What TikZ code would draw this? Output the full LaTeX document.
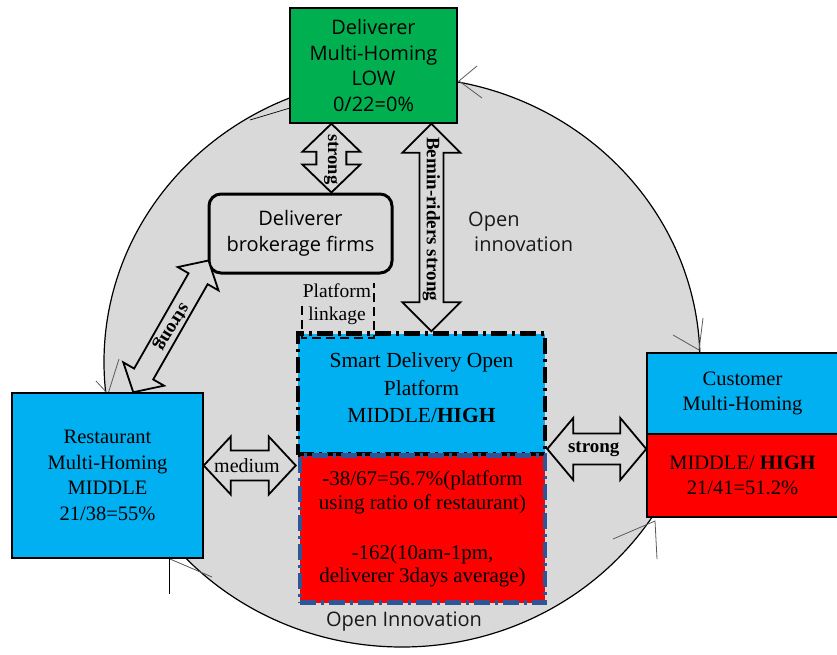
\documentclass[tikz,border=0pt]{standalone}
\usepackage{fontspec}
\setmainfont{Liberation Serif}
\newfontfamily\sansf{Open Sans}
\usetikzlibrary{calc}
\definecolor{cyanb}{HTML}{00B0F0}
\definecolor{greenb}{HTML}{00B050}
\definecolor{bgray}{HTML}{D9D9D9}
\definecolor{dblue}{HTML}{2F5597}
\definecolor{tipgray}{HTML}{5A5A5A}
% #1 start tip, #2 end tip, #3 shaft half width, #4 head half width, #5 head length
\newcommand\blockarrow[5]{%
  \draw[blk] (#1) -- ($(#1)!#5!(#2)!#4!90:(#2)$) -- ($(#1)!#5!(#2)!#3!90:(#2)$)
    -- ($(#2)!#5!(#1)!#3!-90:(#1)$) -- ($(#2)!#5!(#1)!#4!-90:(#1)$) -- (#2)
    -- ($(#2)!#5!(#1)!#4!90:(#1)$) -- ($(#2)!#5!(#1)!#3!90:(#1)$)
    -- ($(#1)!#5!(#2)!#3!-90:(#2)$) -- ($(#1)!#5!(#2)!#4!-90:(#2)$) -- cycle;}
\begin{document}
\begin{tikzpicture}[x=1pt,y=-1pt,
  blk/.style={draw=black, line width=1.8pt, fill=bgray, line join=miter},
  tipline/.style={draw=tipgray, line width=0.8pt},
  sansfont/.style={font=\sansf\fontsize{20}{25.5}\selectfont},
  seriffont/.style={font=\fontsize{20.5}{25.7}\selectfont},
  solidbox/.style={draw=black, line width=1.5pt, inner sep=0pt, align=center},
  dashdot/.style={line width=4.5pt, dash pattern=on 16pt off 5pt on 3pt off 5pt},
  arrowtext/.style={font=\bfseries\fontsize{19}{22}\selectfont, inner sep=0pt}]
\useasboundingbox (0,0) rectangle (837,655);

% big circle
\draw[fill=bgray, line width=1.2pt] (402,362) ellipse [x radius=298pt, y radius=285pt];

% thin arrow-tip strokes on the circle
\draw[tipline] (477,66) -- (459,81) -- (482,98);
\draw[tipline] (673,335) -- (699,350) -- (703,318);
\draw[tipline] (613,539) -- (655,521) -- (657,559);
\draw[tipline] (212,577) -- (170,559);
\draw[black, line width=0.8pt] (169.5,559) -- (169.5,594);
\draw[tipline] (96,381) -- (108,394) -- (119,359);
\draw[black, line width=0.7pt] (250,120) -- (290,108);

% boxes
\node[solidbox, fill=greenb, minimum width=167pt, minimum height=115pt, sansfont]
  (deliv) at (373.5,65.5) {Deliverer\\Multi-Homing\\LOW\\0/22=0\%};
\node[draw=black, line width=3pt, rounded corners=12pt, fill=bgray, minimum width=183pt,
  minimum height=79pt, align=center, sansfont] (broker) at (300.5,233.5) {Deliverer\\brokerage firms};
\node[solidbox, fill=cyanb, minimum width=191pt, minimum height=165pt, seriffont]
  (rest) at (107.5,475.5) {Restaurant\\Multi-Homing\\MIDDLE\\21/38=55\%};
\node[solidbox, fill=cyanb, minimum width=191pt, minimum height=81pt, seriffont]
  (custt) at (742.5,393.5) {Customer\\Multi-Homing};
\node[solidbox, fill=red, minimum width=191pt, minimum height=83pt, seriffont]
  (custb) at (742.5,475.5) {MIDDLE/ \textbf{HIGH}\\21/41=51.2\%};

\node[draw=black, dashdot, fill=cyanb,
  minimum width=247pt, minimum height=121pt, inner sep=0pt] (smart) at (421.5,394) {};
\node[align=center, font=\fontsize{21.5}{27.5}\selectfont] (smarttext) at (421.5,388)
  {Smart Delivery Open\\Platform\\MIDDLE/\textbf{HIGH}};
\node[draw=dblue, dashdot, fill=red,
  minimum width=245pt, minimum height=147pt, inner sep=0pt, align=center,
  font=\fontsize{21}{23.5}\selectfont] (plat) at (422.5,529)
  {-38/67=56.7\%(platform\\using ratio of restaurant)\\[26.5pt]-162(10am-1pm,\\deliverer 3days average)};

% platform linkage
\node[align=center, font=\fontsize{19.5}{23}\selectfont, inner sep=0pt] (plk) at (337,304.5) {Platform\\linkage};
\draw[dash pattern=on 9pt off 5pt, line width=2.2pt] (302,306) -- (302,338) -- (374,338) -- (374,283);

% block arrows
\coordinate (a1) at ($(deliv.south west)!0.25!(deliv.south east)$);
\coordinate (a2) at (a1 |- broker.north);
\blockarrow{a1}{a2}{15pt}{29pt}{28pt}
\node[arrowtext, rotate=-90, font=\bfseries\fontsize{18.5}{20}\selectfont] at ($(a1)!0.52!(a2)$) {strong};

\coordinate (b1) at ($(deliv.south west)!0.844!(deliv.south east)$);
\coordinate (b2) at (b1 |- smart.north);
\blockarrow{b1}{b2}{12pt}{29pt}{29pt}
\node[arrowtext, rotate=-90] at ($(b1)!0.46!(b2)$) {Bemin-riders strong};

\coordinate (c1) at ($(broker.south west)+(1,-14)$);
\coordinate (c2) at ($(rest.north west)+(122,0)$);
\blockarrow{c1}{c2}{11pt}{23.5pt}{21pt}
\node[arrowtext, rotate=238] at ($(c1)!0.5!(c2)$) {strong};

\coordinate (m1) at ($(rest.north east)!0.44!(rest.south east)$);
\coordinate (m2) at (m1 -| smart.west);
\blockarrow{m1}{m2}{15pt}{29pt}{27pt}
\node[font=\fontsize{20}{22}\selectfont, inner sep=0pt] at ($(m1)!0.47!(m2)$) {medium};

\coordinate (h1) at ($(smart.north east)!0.938!(smart.south east)$);
\coordinate (h2) at (h1 -| custt.west);
\blockarrow{h1}{h2}{15.5pt}{31pt}{26pt}
\node[arrowtext] at ($(h1)!0.47!(h2)$) {strong};

% free texts
\node[anchor=west, align=left, sansfont, text=black!90, inner sep=0pt] (oi1) at (468,232)
  {Open\\\hspace{6pt}innovation};
\node[sansfont, text=black!90, inner sep=0pt] (oi2) at (404,622) {Open Innovation};
\end{tikzpicture}
\end{document}
